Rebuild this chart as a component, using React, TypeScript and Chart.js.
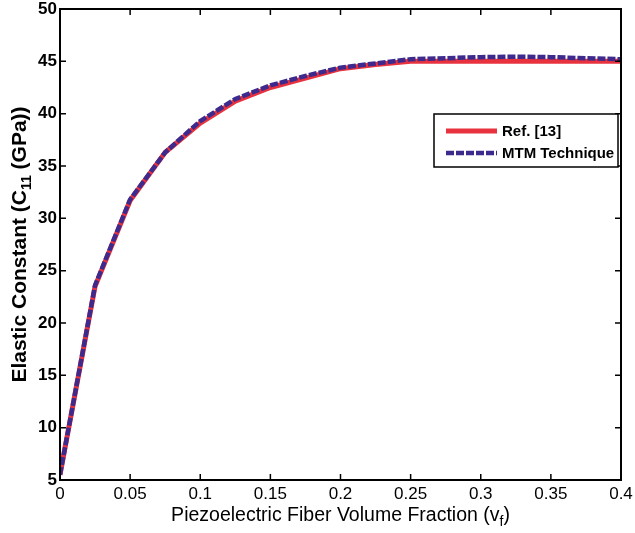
import React, { useEffect, useRef } from "react";
import { Chart, registerables } from "chart.js";

Chart.register(...registerables);

const fractions = [0, 0.025, 0.05, 0.075, 0.1, 0.125, 0.15, 0.175, 0.2, 0.225, 0.25, 0.275, 0.3, 0.325, 0.35, 0.375, 0.4];
const refValues = [5.5, 23.5, 31.7, 36.3, 39.1, 41.2, 42.5, 43.4, 44.3, 44.7, 45.0, 45.0, 45.0, 45.0, 45.0, 45.0, 45.0];
const mtmValues = [5.5, 23.6, 31.8, 36.3, 39.3, 41.4, 42.7, 43.6, 44.4, 44.8, 45.2, 45.3, 45.4, 45.45, 45.4, 45.3, 45.2];
const seriesNames = ["Ref. [13]", "MTM Technique"];
const xTitleParts = ["Piezoelectric Fiber Volume Fraction (v", "f", ")"];
const yTitleParts = ["Elastic Constant (C", "11", " (GPa))"];

const FONT = "'Liberation Sans', Arial, sans-serif";
const RED = "#e8333f";
const PURPLE = "#3d2a8c";

function drawParts(ctx: CanvasRenderingContext2D, parts: string[], mainFont: string, subFont: string, subShift: number) {
  ctx.font = mainFont;
  const w0 = ctx.measureText(parts[0]).width;
  const w2 = ctx.measureText(parts[2]).width;
  ctx.font = subFont;
  const w1 = ctx.measureText(parts[1]).width;
  const total = w0 + w1 + w2;
  let x = -total / 2;
  ctx.textAlign = "left";
  ctx.textBaseline = "alphabetic";
  ctx.font = mainFont;
  ctx.fillText(parts[0], x, 0);
  x += w0;
  ctx.font = subFont;
  ctx.fillText(parts[1], x, subShift);
  x += w1;
  ctx.font = mainFont;
  ctx.fillText(parts[2], x, 0);
}

const decorPlugin = {
  id: "decor",
  afterDraw(chart: any) {
    const { ctx, chartArea: a, scales } = chart;
    ctx.save();
    ctx.strokeStyle = "#000";
    ctx.lineWidth = 1.5;
    const tl = 6;
    scales.x.ticks.forEach((t: any) => {
      const px = scales.x.getPixelForValue(t.value);
      ctx.beginPath();
      ctx.moveTo(px, a.bottom);
      ctx.lineTo(px, a.bottom - tl);
      ctx.moveTo(px, a.top);
      ctx.lineTo(px, a.top + tl);
      ctx.stroke();
    });
    scales.y.ticks.forEach((t: any) => {
      const py = scales.y.getPixelForValue(t.value);
      ctx.beginPath();
      ctx.moveTo(a.left, py);
      ctx.lineTo(a.left + tl, py);
      ctx.moveTo(a.right, py);
      ctx.lineTo(a.right - tl, py);
      ctx.stroke();
    });
    ctx.lineWidth = 2;
    ctx.strokeRect(a.left, a.top, a.right - a.left, a.bottom - a.top);

    const lx = 434, ly = 114, lw = 184, lh = 53;
    ctx.fillStyle = "#fff";
    ctx.fillRect(lx, ly, lw, lh);
    ctx.lineWidth = 1.5;
    ctx.strokeStyle = "#000";
    ctx.strokeRect(lx, ly, lw, lh);
    const rows = [131, 153];
    chart.data.datasets.forEach((ds: any, i: number) => {
      const y = rows[i];
      ctx.beginPath();
      ctx.strokeStyle = ds.borderColor;
      ctx.lineWidth = ds.borderWidth;
      ctx.setLineDash(ds.borderDash || []);
      ctx.moveTo(446, y);
      ctx.lineTo(497, y);
      ctx.stroke();
      ctx.setLineDash([]);
      ctx.fillStyle = "#000";
      ctx.font = `bold 15px ${FONT}`;
      ctx.textAlign = "left";
      ctx.textBaseline = "middle";
      ctx.fillText(ds.label, 502, y + 1);
    });

    ctx.fillStyle = "#000";
    ctx.save();
    ctx.translate((a.left + a.right) / 2, 521);
    drawParts(ctx, xTitleParts, `19.5px ${FONT}`, `14px ${FONT}`, 5);
    ctx.restore();

    ctx.save();
    ctx.translate(25.5, (a.top + a.bottom) / 2);
    ctx.rotate(-Math.PI / 2);
    drawParts(ctx, yTitleParts, `bold 21px ${FONT}`, `bold 14px ${FONT}`, 5);
    ctx.restore();

    ctx.restore();
  },
};

export default function App() {
  const ref = useRef<HTMLCanvasElement | null>(null);
  useEffect(() => {
    if (!ref.current) return;
    const chart = new Chart(ref.current, {
      type: "line",
      data: {
        datasets: [
          {
            label: seriesNames[0],
            data: fractions.map((x, i) => ({ x, y: refValues[i] })),
            borderColor: RED,
            borderWidth: 5,
            pointRadius: 0,
            fill: false,
            tension: 0,
            order: 2,
          },
          {
            label: seriesNames[1],
            data: fractions.map((x, i) => ({ x, y: mtmValues[i] })),
            borderColor: PURPLE,
            borderWidth: 4.5,
            borderDash: [8, 2],
            pointRadius: 0,
            fill: false,
            tension: 0,
            order: 1,
          },
        ],
      },
      options: {
        animation: false,
        responsive: false,
        maintainAspectRatio: false,
        layout: { padding: { left: 0, right: 14, top: 9, bottom: 0 } },
        plugins: {
          legend: { display: false },
          tooltip: { enabled: false },
          title: { display: false },
        },
        scales: {
          x: {
            type: "linear",
            min: 0,
            max: 0.4,
            ticks: {
              stepSize: 0.05,
              color: "#000",
              padding: 4,
              maxRotation: 0,
              font: { family: FONT, size: 17 },
              callback: (v: any) => String(parseFloat(Number(v).toFixed(2))),
            },
            grid: { display: false, drawTicks: false },
            border: { display: false },
            afterFit: (s: any) => {
              s.height = 53;
              s.paddingLeft = 0;
              s.paddingRight = 0;
            },
          },
          y: {
            type: "linear",
            min: 5,
            max: 50,
            ticks: {
              stepSize: 5,
              color: "#000",
              padding: 3,
              font: { family: FONT, size: 17, weight: "bold" },
            },
            grid: { display: false, drawTicks: false },
            border: { display: false },
            afterFit: (s: any) => {
              s.width = 60;
              s.paddingTop = 0;
              s.paddingBottom = 0;
            },
          },
        },
      },
      plugins: [decorPlugin],
    });
    return () => chart.destroy();
  }, []);
  return (
    <div style={{ position: "absolute", left: 0, top: 0, width: 635, height: 533, background: "#fff" }}>
      <canvas ref={ref} width={635} height={533} />
    </div>
  );
}
